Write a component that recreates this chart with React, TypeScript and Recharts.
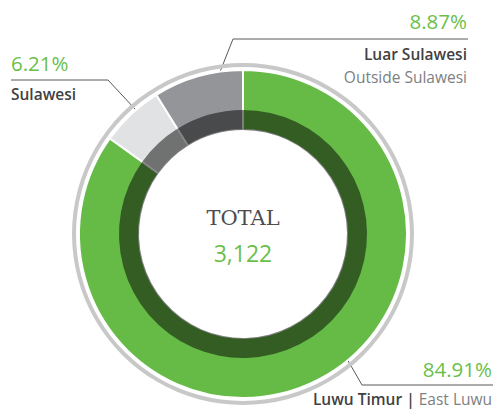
import { Pie, PieChart } from "recharts";

const regions = ["Luwu Timur", "Sulawesi", "Luar Sulawesi"];
const regionsEn = ["East Luwu", "", "Outside Sulawesi"];
const employees = [2651, 194, 277];
const sliceColors = ["#66bb46", "#e1e2e3", "#939598"];

const total = employees.reduce((a, b) => a + b, 0);
const pct = (v: number) => ((v / total) * 100).toFixed(2) + "%";

const data = regions.map((name, i) => ({
  name,
  value: employees[i],
  fill: sliceColors[i],
}));

// same slices, drawn as a half-black band over the inner part of the ring
const shade = regions.map((name, i) => ({ name, value: employees[i] }));

const GREEN = "#6abf4b";
const DARK = "#414042";
const LIGHT = "#7d7f82";
const LEADER = "#58595b";
const FONT = "'Open Sans', 'Noto Sans', sans-serif";

const CX = 243;
const CY = 234;

const Labels = () => (
  <g fontFamily={FONT}>
    {/* Luar Sulawesi */}
    <polyline points="216,82 233,39 468,39" fill="none" stroke={LEADER} strokeWidth={1} />
    <text x={467} y={29} textAnchor="end" fill={GREEN} fontSize={20.5}>
      {pct(employees[2])}
    </text>
    <text x={467} y={60} textAnchor="end" fill={DARK} fontSize={15.5} fontWeight={600}>
      {regions[2]}
    </text>
    <text x={467} y={83} textAnchor="end" fill={LIGHT} fontSize={15.5}>
      {regionsEn[2]}
    </text>

    {/* Sulawesi */}
    <polyline points="148,123 108,80 11,80" fill="none" stroke={LEADER} strokeWidth={1} />
    <text x={11} y={71} fill={GREEN} fontSize={20.5}>
      {pct(employees[1])}
    </text>
    <text x={11} y={100} fill={DARK} fontSize={15.5} fontWeight={600}>
      {regions[1]}
    </text>

    {/* Luwu Timur */}
    <polyline points="335,338 362,385 493,385" fill="none" stroke={LEADER} strokeWidth={1} />
    <text x={492} y={377} textAnchor="end" fill={GREEN} fontSize={20.5}>
      {pct(employees[0])}
    </text>
    <text x={492} y={405} textAnchor="end" fontSize={15.5}>
      <tspan fill={DARK} fontWeight={600}>{regions[0]}</tspan>
      <tspan fill={DARK} fontWeight={600}> | </tspan>
      <tspan fill={LIGHT}>{regionsEn[0]}</tspan>
    </text>

    {/* centre */}
    <text x={CX} y={225} textAnchor="middle" fill="#4d4d4f" fontSize={21} fontFamily="'DejaVu Serif', serif">
      TOTAL
    </text>
    <text x={CX} y={262} textAnchor="middle" fill={GREEN} fontSize={23}>
      {total.toLocaleString("en-US")}
    </text>
  </g>
);

export default function App() {
  return (
    <div style={{ position: "absolute", left: 0, top: 0, width: 493, height: 410, background: "#fff" }}>
      <PieChart width={493} height={410} margin={{ top: 0, right: 0, bottom: 0, left: 0 }}>
        <Pie
          data={[{ name: "ring", value: 1 }]}
          dataKey="value"
          cx={CX}
          cy={CY}
          innerRadius={167}
          outerRadius={171}
          fill="#c8c8c9"
          stroke="none"
          isAnimationActive={false}
        />
        <Pie
          data={data}
          dataKey="value"
          cx={CX}
          cy={CY}
          startAngle={90}
          endAngle={-270}
          innerRadius={104}
          outerRadius={164}
          stroke="#ffffff"
          strokeWidth={2}
          isAnimationActive={false}
        />
        <Pie
          data={shade}
          dataKey="value"
          cx={CX}
          cy={CY}
          startAngle={90}
          endAngle={-270}
          innerRadius={104}
          outerRadius={124}
          fill="#000000"
          fillOpacity={0.5}
          stroke="none"
          isAnimationActive={false}
        />
        <Labels />
      </PieChart>
    </div>
  );
}
